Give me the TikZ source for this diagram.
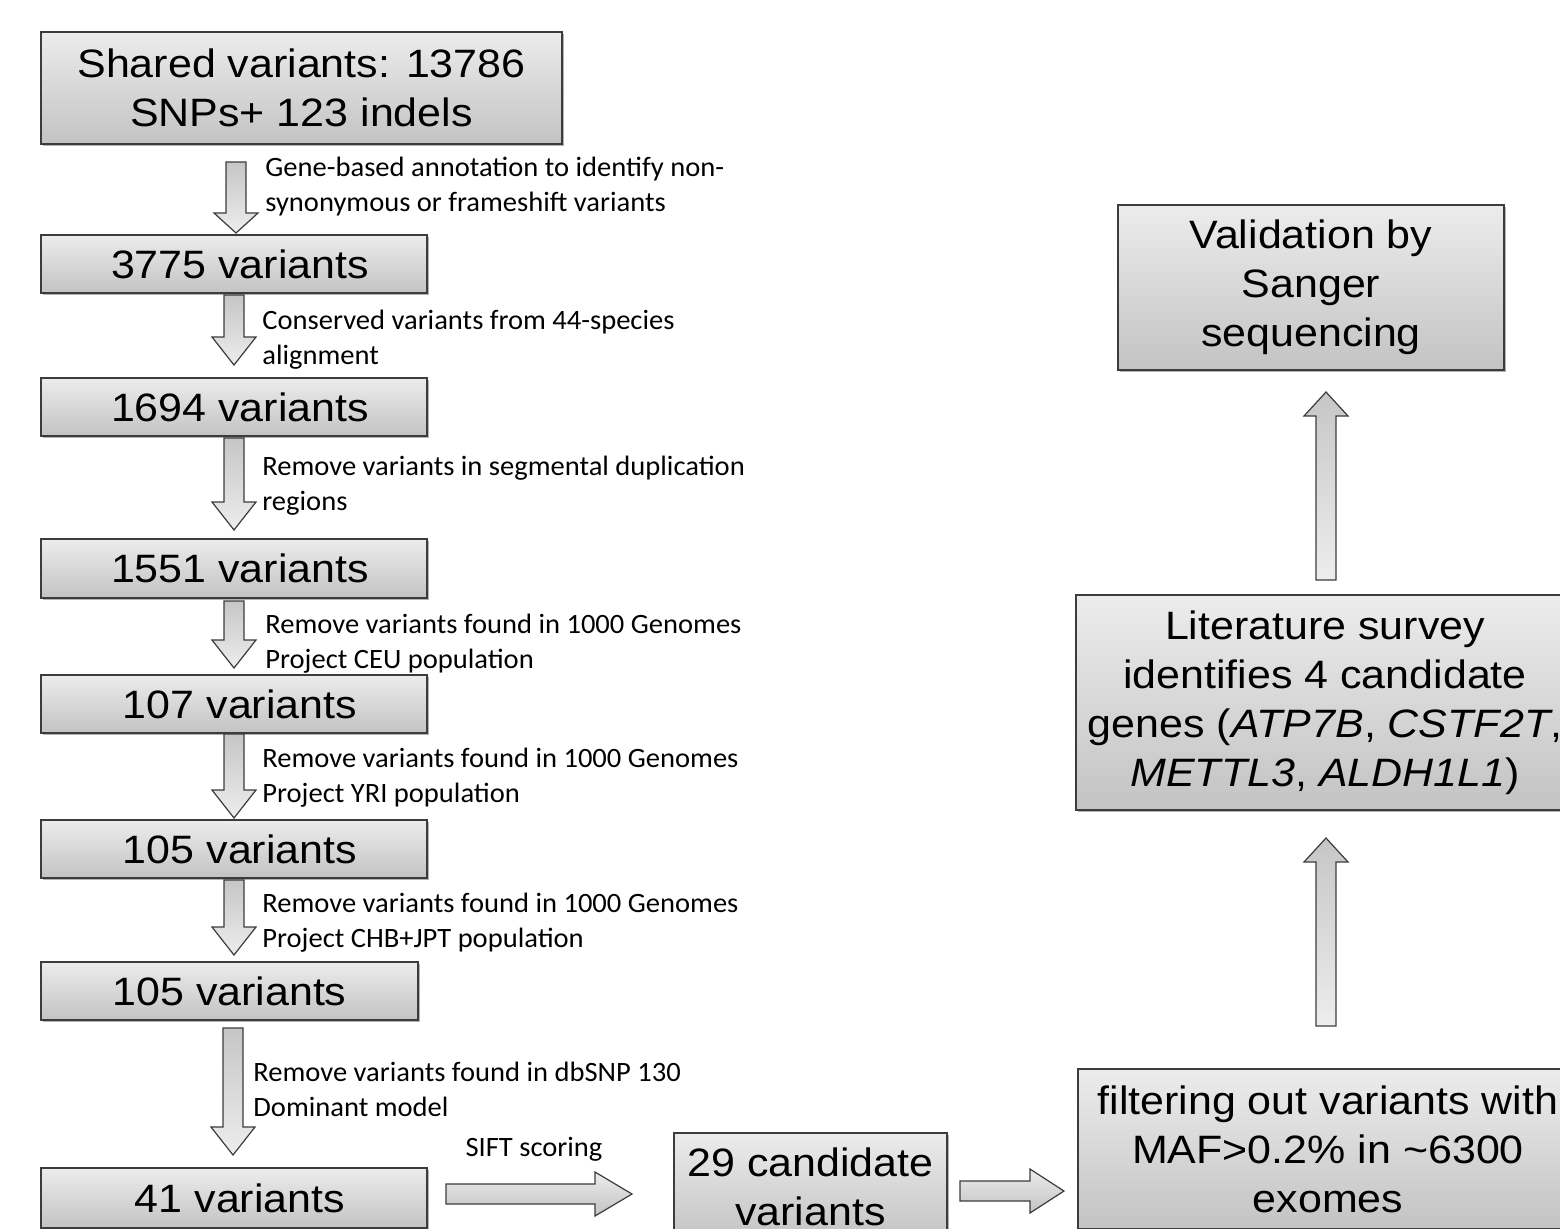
\documentclass[tikz,border=0pt]{standalone}
\usepackage{fontspec}
\setmainfont{Liberation Sans}
\newfontfamily\boxfont[FakeStretch=1.085]{Liberation Sans}
\newfontfamily\lblfont[FakeStretch=1.02]{Carlito}
\usetikzlibrary{calc,shadows}
\definecolor{bordc}{HTML}{3C3C3C}
\definecolor{boxtop}{HTML}{ECECEC}
\definecolor{boxbot}{HTML}{C3C3C3}
\definecolor{arrdark}{HTML}{C6C6C6}
\definecolor{arrlight}{HTML}{EDEDED}
\newcommand\shw{5pt}
\newcommand\hhw{11pt}
\newcommand\rsh{\hspace*{6pt}}
\newcommand\blockarr[4]{%
  \coordinate (hb) at ($(#2)!#3!(#1)$);
  \draw[#4] ($(#1)!\shw!90:(#2)$) -- ($(hb)!\shw!90:(#2)$) -- ($(hb)!\hhw!90:(#2)$) -- (#2)
    -- ($(hb)!\hhw!-90:(#2)$) -- ($(hb)!\shw!-90:(#2)$) -- ($(#1)!\shw!-90:(#2)$) -- cycle;}
\tikzset{
  box/.style={draw=bordc, line width=0.75pt, top color=boxtop, bottom color=boxbot,
    rectangle, inner sep=0pt, align=center,
    font=\boxfont\fontsize{19.8pt}{24.5pt}\selectfont,
    drop shadow={shadow xshift=1pt, shadow yshift=-1.2pt, opacity=0.3, fill=black}},
  lbl/.style={inner sep=0pt, align=left, anchor=west, font=\lblfont\fontsize{14pt}{17.5pt}\selectfont},
  varr/.style={draw=bordc, line width=0.6pt, top color=arrdark, bottom color=arrlight},
  uarr/.style={draw=bordc, line width=0.6pt, top color=arrdark, bottom color=arrlight},
  harr/.style={draw=bordc, line width=0.6pt, top color=boxtop, bottom color=boxbot},
}
\begin{document}
\begin{tikzpicture}[x=0.5pt, y=-0.5pt]
\useasboundingbox (0,0) rectangle (1560,1228);
\clip (0,0) rectangle (1560,1228);

% left column boxes
\node[box, minimum width=260.5pt, minimum height=56pt] (b1) at (301.5,88) {Shared variants: 13786\\SNPs+ 123 indels};
\node[box, minimum width=193pt, minimum height=29pt] (b2) at (234,264) {\rsh 3775 variants};
\node[box, minimum width=193pt, minimum height=29pt] (b3) at (234,407) {\rsh 1694 variants};
\node[box, minimum width=193pt, minimum height=29.5pt] (b4) at (234,568.5) {\rsh 1551 variants};
\node[box, minimum width=193pt, minimum height=29pt] (b5) at (234,704) {\rsh 107 variants};
\node[box, minimum width=193pt, minimum height=29pt] (b6) at (234,849) {\rsh 105 variants};
\node[box, minimum width=188.5pt, minimum height=29pt] (b7) at (229.5,991) {105 variants};
\node[box, minimum width=193pt, minimum height=30pt] (b8) at (234,1198) {\rsh 41 variants};

% bottom / right boxes
\node[box, minimum width=136.5pt, minimum height=53.5pt] (b9) at (810.5,1186.5) {29 candidate\\variants};
\node[box, minimum width=250pt, minimum height=80pt] (b10) at (1328,1149) {filtering out variants with\\MAF>0.2\% in \textasciitilde6300\\exomes};
\node[box, minimum width=249pt, minimum height=107.5pt] (b11) at (1325,702.5) {Literature survey\\identifies 4 candidate\\genes (\textit{ATP7B}, \textit{CSTF2T},\\\textit{METTL3}, \textit{ALDH1L1})};
\node[box, minimum width=193pt, minimum height=82.5pt] (b12) at (1311,287.5) {Validation by\\Sanger\\sequencing};

% arrow end points
\coordinate (t1) at (236,162);  \coordinate (p1) at (236,233);
\coordinate (t2) at (234,295);  \coordinate (p2) at (234,365);
\coordinate (t3) at (234,438);  \coordinate (p3) at (234,530);
\coordinate (t4) at (234,601);  \coordinate (p4) at (234,668);
\coordinate (t5) at (234,734);  \coordinate (p5) at (234,818);
\coordinate (t6) at (234,880);  \coordinate (p6) at (234,955);
\coordinate (t7) at (233,1028); \coordinate (p7) at (233,1155);
\coordinate (t8) at (446,1194); \coordinate (p8) at (632,1194);
\coordinate (t9) at (960,1191); \coordinate (p9) at (1064,1191);
\coordinate (t10) at (1326,1026); \coordinate (p10) at (1326,838);
\coordinate (t11) at (1326,580);  \coordinate (p11) at (1326,392);

\blockarr{t1}{p1}{10pt}{varr}
\blockarr{t2}{p2}{14pt}{varr}
\blockarr{t3}{p3}{14pt}{varr}
\blockarr{t4}{p4}{14pt}{varr}
\blockarr{t5}{p5}{14pt}{varr}
\blockarr{t6}{p6}{14pt}{varr}
\blockarr{t7}{p7}{14pt}{varr}
\blockarr{t8}{p8}{18.5pt}{harr}
\blockarr{t9}{p9}{17pt}{harr}
\blockarr{t10}{p10}{12pt}{uarr}
\blockarr{t11}{p11}{12pt}{uarr}

% labels
\node[lbl] (l1) at (265,186.5) {Gene-based annotation to identify non-\\synonymous or frameshift variants};
\node[lbl] (l2) at (262,339.5) {Conserved variants from 44-species\\alignment};
\node[lbl] (l3) at (262,485.5) {Remove variants in segmental duplication\\regions};
\node[lbl] (l4) at (265,643.5) {Remove variants found in 1000 Genomes\\Project CEU population};
\node[lbl] (l5) at (262,777.5) {Remove variants found in 1000 Genomes\\Project YRI population};
\node[lbl] (l6) at (262,922.5) {Remove variants found in 1000 Genomes\\Project CHB+JPT population};
\node[lbl] (l7) at (253,1089.5) {Remove variants found in dbSNP 130\\Dominant model};
\node[lbl, anchor=center] (l8) at (534,1149) {SIFT scoring};
\end{tikzpicture}
\end{document}
